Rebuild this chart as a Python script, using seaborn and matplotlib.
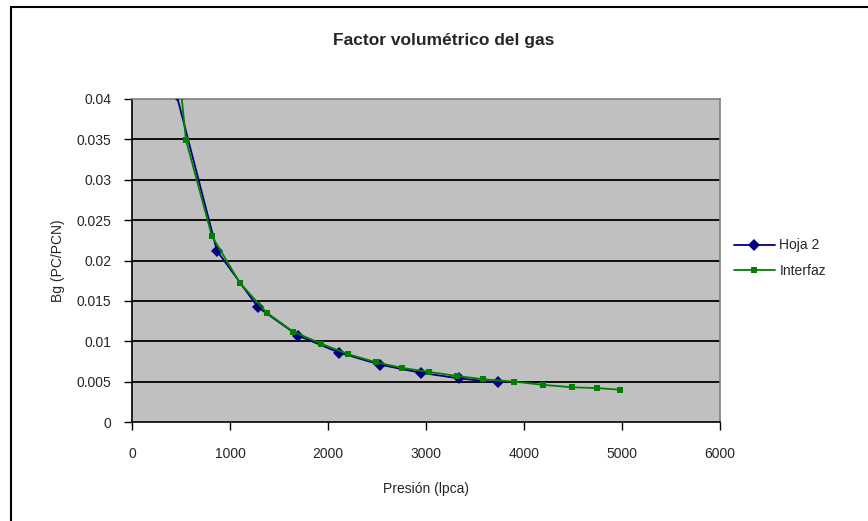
import matplotlib
matplotlib.use("Agg")
import matplotlib.pyplot as plt
import seaborn as sns
import pandas as pd
from matplotlib.patches import Rectangle

# Data
hoja2_p = [455, 867, 1286, 1694, 2112, 2531, 2944, 3337, 3735]
hoja2_bg = [0.0405, 0.0212, 0.0142, 0.0107, 0.0086, 0.0071, 0.0061, 0.0054, 0.0049]

interfaz_p = [290, 551, 816, 1102, 1378, 1643, 1929, 2204, 2490, 2755, 3031,
              3316, 3582, 3898, 4194, 4490, 4745, 4980]
interfaz_bg = [0.066, 0.0349, 0.0230, 0.0172, 0.0135, 0.0112, 0.0097, 0.0084,
               0.0074, 0.0067, 0.0062, 0.0057, 0.0053, 0.0050, 0.0046, 0.0043,
               0.0042, 0.0040]

series_names = ["Hoja 2", "Interfaz"]
x_ticks = [0, 1000, 2000, 3000, 4000, 5000, 6000]
y_ticks = [0, 0.005, 0.01, 0.015, 0.02, 0.025, 0.03, 0.035, 0.04]
y_tick_labels = ["0", "0.005", "0.01", "0.015", "0.02", "0.025", "0.03", "0.035", "0.04"]

df = pd.concat([
    pd.DataFrame({"p": hoja2_p, "bg": hoja2_bg, "Serie": series_names[0]}),
    pd.DataFrame({"p": interfaz_p, "bg": interfaz_bg, "Serie": series_names[1]}),
], ignore_index=True)

sns.set_style("white")
plt.rcParams["font.family"] = ["Liberation Sans", "DejaVu Sans"]

fig = plt.figure(figsize=(8.68, 5.21), dpi=100)
fig.patch.set_facecolor("white")
ax = fig.add_axes([132/868, (521-422)/521, (720-132)/868, (422-99)/521])
ax.set_facecolor("#C0C0C0")

# chart border
fig.patches.append(Rectangle((11/868, -0.05), 1.2, (521-7)/521 + 0.05,
                             transform=fig.transFigure, fill=False,
                             edgecolor="black", linewidth=1.5, zorder=0))

# gridlines
for yv in y_ticks[1:-1]:
    ax.axhline(yv, color="black", linewidth=1.3, zorder=1)

sns.lineplot(data=df, x="p", y="bg", hue="Serie", style="Serie", sort=False,
             estimator=None, units="Serie",
             palette={"Hoja 2": "#000080", "Interfaz": "#008000"},
             markers={"Hoja 2": "D", "Interfaz": "s"}, dashes=False,
             markersize=6, markeredgewidth=0, linewidth=1.3, ax=ax, zorder=3)

# adjust marker sizes per series (diamonds a bit larger, squares smaller)
for line in ax.lines:
    if line.get_marker() == "D":
        line.set_markersize(6.5)
    elif line.get_marker() == "s":
        line.set_markersize(5)

ax.set_xlim(0, 6000)
ax.set_ylim(0, 0.04)
ax.set_xticks(x_ticks)
ax.set_xticklabels([str(v) for v in x_ticks])
ax.set_yticks(y_ticks)
ax.set_yticklabels(y_tick_labels)
ax.tick_params(axis="both", direction="out", length=6, width=1, color="black",
               labelsize=10, bottom=True, left=True)
ax.tick_params(axis="x", pad=12)
ax.tick_params(axis="y", pad=9)
for s in ["left", "bottom"]:
    ax.spines[s].set_color("black")
    ax.spines[s].set_linewidth(1.2)
for s in ["top", "right"]:
    ax.spines[s].set_color("#808080")
    ax.spines[s].set_linewidth(1.2)

ax.set_xlabel("Presión (lpca)", fontsize=10, labelpad=15)
ax.set_ylabel("Bg (PC/PCN)", fontsize=10, labelpad=8)
fig.text(444/868, 1 - 40/521, "Factor volumétrico del gas", ha="center", va="center",
         fontsize=12.5, fontweight="bold")

handles, labels = ax.get_legend_handles_labels()
ax.legend(handles, labels, loc="center left", bbox_to_anchor=(728/868, 1 - 258/521),
          bbox_transform=fig.transFigure, frameon=False, fontsize=10,
          handlelength=3, handletextpad=0.3, labelspacing=0.8, borderaxespad=0)

fig.savefig("out.png", dpi=100, facecolor="white")
